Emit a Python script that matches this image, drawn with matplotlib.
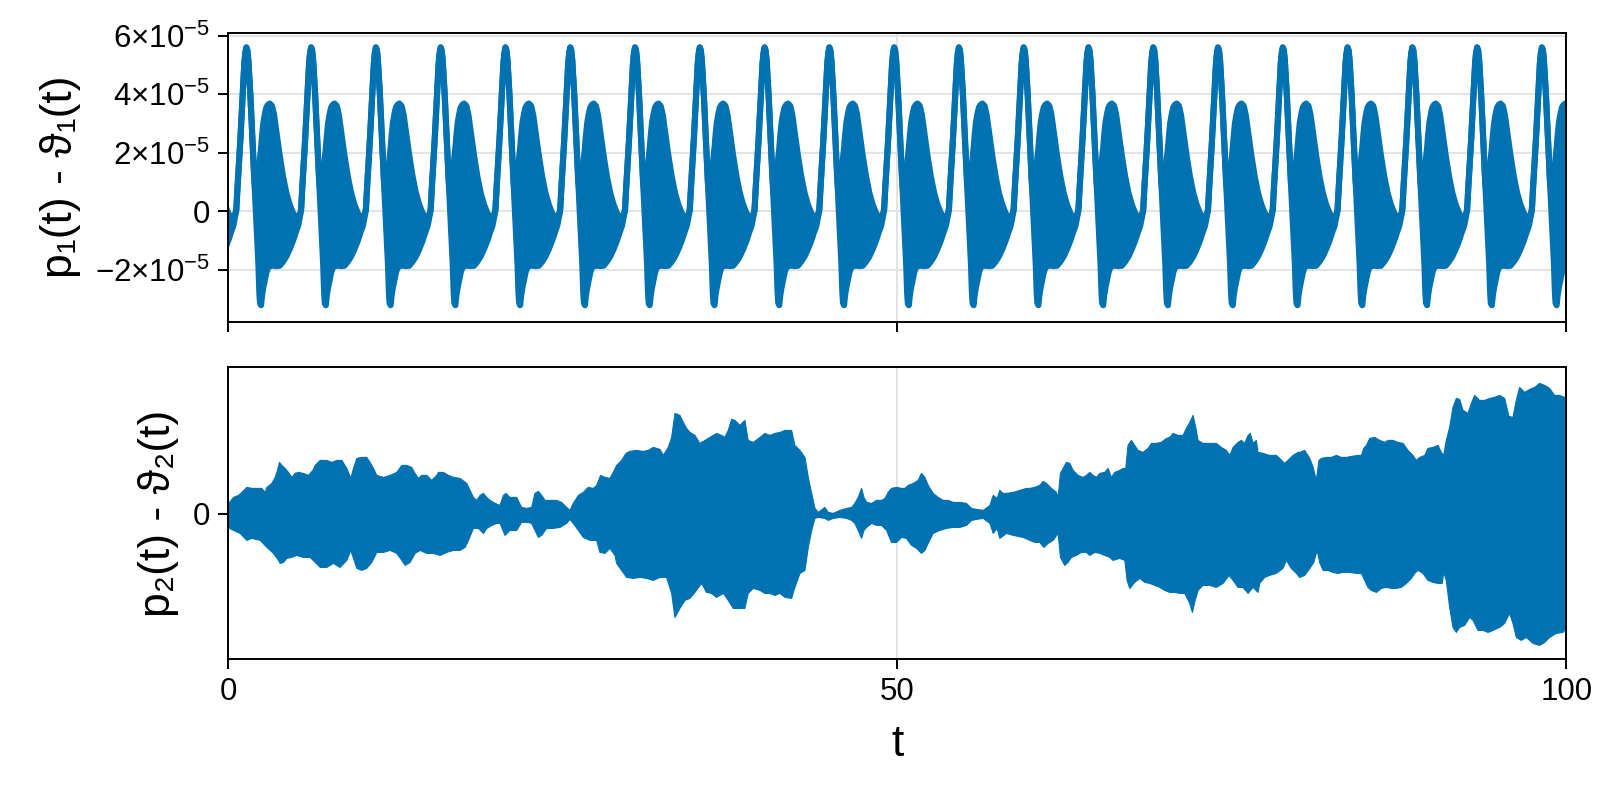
import numpy as np
import matplotlib
matplotlib.use("Agg")
import matplotlib.pyplot as plt

plt.rcParams['font.family'] = ['Liberation Sans', 'DejaVu Sans']
plt.rcParams['mathtext.fontset'] = 'custom'
plt.rcParams['mathtext.rm'] = 'Liberation Sans'
plt.rcParams['mathtext.it'] = 'Liberation Sans:italic'
plt.rcParams['mathtext.bf'] = 'Liberation Sans:bold'

BLUE = '#0072b2'

# ---------------- top panel: one read cycle of p1 - theta1 (units of 1e-5) ----------------
p1_period = 4.84          # time between tall peaks
p1_first_peak = 1.37      # time of first tall peak
p1_n_cycles = 21
cycle_dt = [0.00, 0.075, 0.15, 0.224, 0.30, 0.40, 0.50, 0.60, 0.70, 0.80, 0.90, 0.97,
            1.02, 1.10, 1.17, 1.27, 1.40, 1.50, 1.62, 1.75, 1.92, 2.07, 2.24, 2.49,
            2.74, 2.99, 3.24, 3.49, 3.69, 3.87, 3.99, 4.09, 4.19, 4.29, 4.39, 4.49,
            4.59, 4.69, 4.76]
cycle_upper = [5.60, 5.50, 5.17, 4.57, 3.98, 2.99, 2.00, 1.02, 0.58, 0.76, 1.19, 1.56,
               1.82, 2.16, 2.56, 3.02, 3.36, 3.55, 3.64, 3.68, 3.60, 3.30, 2.73, 1.91,
               1.19, 0.62, 0.22, -0.07, -0.22, -0.18, -0.13, 0.06, 0.88, 1.62, 2.42, 3.32,
               4.29, 5.06, 5.40]
cycle_lower = [5.60, 5.50, 5.17, 4.57, 3.98, 2.99, 2.00, 1.02, 0.08, -0.83, -1.81, -2.78,
               -3.14, -3.22, -2.90, -2.61, -2.33, -2.10, -1.93, -1.88, -1.87, -1.87, -1.88, -1.87,
               -1.73, -1.55, -1.30, -1.01, -0.73, -0.50, -0.21, 0.02, 0.88, 1.62, 2.42, 3.32,
               4.29, 5.06, 5.40]
p1_yticks = [-2e-5, 0, 2e-5, 4e-5, 6e-5]
p1_yticklabels = [r'$-2{\times}10^{-5}$', '0', r'$2{\times}10^{-5}$',
                  r'$4{\times}10^{-5}$', r'$6{\times}10^{-5}$']

# ---------------- bottom panel: envelope of p2 - theta2 (arbitrary units) ----------------
p2_upper_t = [0.0, 0.08, 0.38, 0.75, 1.00, 1.37, 1.75, 2.12, 2.49, 2.74, 2.87, 3.24, 3.49, 3.66, 3.81, 3.99,
              4.23, 4.48, 4.73, 4.98, 5.23, 5.60, 5.98, 6.30, 6.48, 6.85, 7.35, 7.72, 8.09, 8.47,
              8.84, 9.14, 9.34, 9.59, 9.96, 10.33, 10.58, 10.83, 11.08, 11.58, 12.08, 12.57,
              12.95, 13.32, 13.69, 13.94, 14.19, 14.44, 14.81, 15.19, 15.56, 15.69, 16.06, 16.43,
              16.81, 17.30, 17.80, 18.05, 18.30, 18.55, 18.80, 19.05, 19.30, 19.54, 19.92, 20.29,
              20.54, 20.73, 21.03, 21.53, 21.90, 22.28, 22.65, 22.90, 23.15, 23.40, 23.65, 24.02,
              24.52, 24.89, 25.27, 25.51, 25.76, 26.14, 26.51, 26.88, 27.26, 27.51, 27.80, 28.13,
              28.50, 28.75, 29.00, 29.37, 29.70, 29.99, 30.49, 30.99, 31.36, 31.74, 32.24, 32.49,
              32.86, 33.11, 33.36, 33.73, 33.98, 34.23, 34.48, 34.85, 35.22, 35.60, 35.97, 36.47,
              36.84, 37.09, 37.34, 37.59, 37.84, 38.21, 38.58, 38.83, 39.21,
              39.71, 40.08, 40.46, 40.83, 41.20, 41.58, 42.07, 42.32, 42.70, 43.07, 43.32, 43.57,
              43.82, 44.07, 44.56, 44.81, 45.19, 45.68, 46.18, 46.56, 46.80, 47.05, 47.30, 47.48,
              47.68, 48.05, 48.42, 48.80, 49.05, 49.29, 49.54, 49.92, 50.29, 50.54, 50.79, 51.16,
              51.53, 51.78, 52.03, 52.28, 52.65, 53.03, 53.40, 53.77, 54.15, 54.65, 55.14, 55.52,
              55.89, 56.39, 56.89, 57.14, 57.43, 57.63, 57.88, 58.13, 58.63, 59.13, 59.62,
              59.87, 60.24, 60.62, 60.87, 61.12, 61.49, 61.86, 61.99, 62.16, 62.36, 62.61, 62.86,
              63.11, 63.48, 63.85, 64.10, 64.35, 64.60, 64.85, 65.10, 65.47, 65.72, 65.97, 66.22,
              66.59, 66.84, 67.04, 67.21, 67.46, 67.71, 67.96, 68.33, 68.71, 68.96, 69.33, 69.70,
              70.08, 70.33, 70.57, 70.95, 71.32, 71.57, 71.82, 72.07, 72.27, 72.44, 72.81, 73.31,
              73.81, 74.18, 74.56, 74.81, 75.06, 75.43, 75.68, 75.93, 76.18, 76.35, 76.55, 76.80,
              76.92, 77.30, 77.79, 78.29, 78.54, 78.91, 79.16, 79.54, 79.91,
              80.04, 80.41, 80.79, 81.04, 81.28, 81.48, 81.66, 82.03, 82.40, 82.78, 83.15, 83.53,
              83.90, 84.40, 84.65, 84.82, 85.02, 85.27, 85.64, 86.02, 86.39, 86.64, 87.01, 87.38,
              87.76, 88.13, 88.50, 88.75, 89.00, 89.38, 89.62, 90.00, 90.37, 90.62, 90.79, 90.99,
              91.24, 91.49, 91.74, 91.99, 92.24, 92.61, 92.86, 93.11, 93.48, 93.86, 94.23, 94.60,
              94.98, 95.35, 95.67, 95.97, 96.22, 96.47, 96.84, 97.22, 97.59, 97.96, 98.34, 98.71,
              99.08, 99.46, 99.83, 100.0]
p2_upper = [0.09, 0.12, 0.17, 0.19, 0.22, 0.27, 0.26, 0.26, 0.26, 0.22, 0.27, 0.31, 0.37, 0.44, 0.52, 0.49,
            0.46, 0.42, 0.37, 0.41, 0.42, 0.41, 0.39, 0.44, 0.49, 0.54, 0.54, 0.52, 0.54, 0.54,
            0.46, 0.36, 0.46, 0.56, 0.57, 0.57, 0.52, 0.46, 0.39, 0.37, 0.39, 0.42,
            0.49, 0.49, 0.47, 0.41, 0.36, 0.39, 0.39, 0.34, 0.39, 0.42, 0.42, 0.39,
            0.37, 0.36, 0.31, 0.24, 0.17, 0.14, 0.19, 0.21, 0.17, 0.14, 0.11, 0.09,
            0.19, 0.21, 0.17, 0.17, 0.07, 0.06, 0.07, 0.21, 0.23, 0.19, 0.14, 0.14,
            0.14, 0.12, 0.07, 0.04, 0.11, 0.19, 0.22, 0.27, 0.26, 0.29, 0.39, 0.37,
            0.36, 0.42, 0.49, 0.54, 0.61, 0.63, 0.64, 0.63, 0.64, 0.67, 0.65, 0.59,
            0.67, 0.77, 1.01, 0.99, 0.92, 0.86, 0.82, 0.79, 0.71, 0.74, 0.77, 0.81,
            0.79, 0.77, 0.84, 0.95, 0.94, 0.89, 0.94, 0.74, 0.72,
            0.77, 0.81, 0.79, 0.81, 0.82, 0.84, 0.84, 0.69, 0.64, 0.57, 0.37, 0.21,
            0.06, 0.02, 0.07, 0.02, 0.01, 0.04, 0.06, 0.07, 0.11, 0.17, 0.26, 0.17,
            0.12, 0.11, 0.14, 0.14, 0.16, 0.22, 0.26, 0.27, 0.26, 0.26, 0.29, 0.31,
            0.34, 0.41, 0.37, 0.29, 0.21, 0.17, 0.14, 0.14, 0.12, 0.12, 0.11, 0.06,
            0.05, 0.04, 0.09, 0.19, 0.16, 0.24, 0.21, 0.21, 0.22, 0.24, 0.26,
            0.26, 0.27, 0.29, 0.33, 0.31, 0.26, 0.22, 0.17, 0.41, 0.46, 0.52, 0.51,
            0.44, 0.39, 0.37, 0.39, 0.42, 0.39, 0.37, 0.41, 0.42, 0.46, 0.37, 0.42,
            0.44, 0.46, 0.46, 0.69, 0.74, 0.69, 0.64, 0.62, 0.66, 0.71, 0.71, 0.72,
            0.76, 0.77, 0.81, 0.79, 0.79, 0.86, 0.92, 0.99, 0.87, 0.74, 0.71, 0.71,
            0.71, 0.67, 0.64, 0.59, 0.67, 0.72, 0.74, 0.71, 0.79, 0.81, 0.71, 0.74,
            0.62, 0.61, 0.59, 0.59, 0.56, 0.51, 0.54, 0.59, 0.62,
            0.62, 0.64, 0.56, 0.47, 0.34, 0.54, 0.56, 0.57, 0.57, 0.59, 0.57, 0.57,
            0.58, 0.59, 0.59, 0.66, 0.69, 0.76, 0.77, 0.74, 0.72, 0.74, 0.74, 0.72,
            0.71, 0.64, 0.59, 0.54, 0.57, 0.59, 0.66, 0.67, 0.69, 0.62, 0.59, 0.74,
            0.87, 1.07, 1.16, 1.15, 1.04, 1.01, 1.11, 1.19, 1.14, 1.14, 1.16, 1.17,
            1.19, 1.16, 0.98, 0.97, 1.14, 1.27, 1.22, 1.25, 1.27, 1.31, 1.29, 1.26,
            1.19, 1.19, 1.17, 1.16]
p2_lower_t = [0.0, 0.08, 0.38, 0.87, 1.37, 1.75, 2.37, 2.87, 3.36, 3.74, 3.86, 4.11, 4.36, 4.73, 5.11, 5.60,
              6.10, 6.48, 6.85, 7.35, 7.84, 8.34, 8.84, 9.14, 9.34, 9.59, 9.96, 10.33, 10.71,
              11.08, 11.58, 12.08, 12.57, 12.95, 13.20, 13.57, 13.94, 14.32, 14.81, 15.31, 15.81,
              16.31, 16.81, 17.30, 17.68, 17.93, 18.30, 18.67, 19.05, 19.30, 19.67, 20.04, 20.29,
              20.66, 21.03, 21.53, 21.90, 22.40, 22.65, 22.90, 23.15, 23.40, 23.77, 24.27, 24.77,
              25.27, 25.51, 25.76, 26.14, 26.51, 27.01, 27.51, 27.75, 28.13, 28.50, 28.88, 29.00,
              29.37, 29.75, 30.24, 30.74, 31.24, 31.74, 32.24, 32.73, 33.11, 33.36, 33.73, 34.10,
              34.48, 34.85, 35.35, 35.72, 36.09, 36.47, 36.97, 37.34, 37.71, 38.21, 38.58, 38.83, 39.21,
              39.71, 40.08, 40.46, 40.83, 41.20, 41.58, 42.07, 42.32, 42.70, 43.07, 43.32, 43.57,
              43.82, 44.07, 44.56, 44.81, 45.19, 45.68, 46.18, 46.56, 46.80, 47.05, 47.30, 47.48,
              47.68, 48.05, 48.42, 48.80, 49.17, 49.54, 49.92, 50.29, 50.66, 51.04, 51.41, 51.78,
              52.03, 52.28, 52.65, 53.15, 53.65, 54.15, 54.65, 55.14, 55.52, 55.89, 56.39, 56.89,
              57.14, 57.43, 57.63, 58.13, 58.63, 59.38,
              59.87, 60.24, 60.62, 60.92, 61.24, 61.61, 61.99, 62.16, 62.48, 62.73, 62.98, 63.36,
              63.73, 64.10, 64.35, 64.73, 65.10, 65.47, 65.85, 66.09, 66.59, 66.97, 67.14, 67.34,
              67.71, 68.09, 68.46, 68.83, 69.21, 69.58, 69.95, 70.33, 70.70, 71.07, 71.45, 71.82,
              72.02, 72.19, 72.44, 72.81, 73.31, 73.81, 74.31, 74.76, 75.06, 75.43, 75.80, 76.18,
              76.55, 76.92, 77.05, 77.42, 77.79, 78.29, 78.79, 79.04, 79.41, 79.79,
              80.04, 80.41, 80.79, 81.09, 81.34, 81.53, 81.78, 82.16, 82.53, 82.90, 83.28, 83.77,
              84.27, 84.65, 84.89, 85.14, 85.39, 85.77, 86.14, 86.51, 86.89, 87.26, 87.63, 88.01,
              88.38, 88.63, 88.88, 89.25, 89.62, 90.00, 90.37, 90.69, 90.79, 90.99, 91.24, 91.49,
              91.74, 91.99, 92.36, 92.74, 92.99, 93.36, 93.73, 94.11, 94.48, 94.98, 95.35, 95.72,
              95.97, 96.22, 96.59, 96.97, 97.47, 97.96, 98.34, 98.71, 99.21, 99.71, 100.0]
p2_lower = [-0.10, -0.14, -0.16, -0.19, -0.26, -0.24, -0.26, -0.33, -0.39, -0.46, -0.49, -0.48, -0.44, -0.43, -0.41, -0.43,
            -0.43, -0.48, -0.53, -0.53, -0.49, -0.53, -0.46, -0.36, -0.44, -0.54, -0.56, -0.54, -0.48,
            -0.38, -0.38, -0.36, -0.39, -0.46, -0.51, -0.48, -0.39, -0.36, -0.39, -0.39, -0.41,
            -0.38, -0.36, -0.36, -0.33, -0.26, -0.14, -0.14, -0.19, -0.14, -0.11, -0.09, -0.09,
            -0.21, -0.16, -0.16, -0.08, -0.08, -0.09, -0.16, -0.23, -0.21, -0.14, -0.14, -0.13,
            -0.09, -0.05, -0.09, -0.16, -0.23, -0.26, -0.26, -0.38, -0.39, -0.34, -0.41, -0.49,
            -0.56, -0.63, -0.64, -0.63, -0.64, -0.66, -0.63, -0.63, -0.79, -1.03, -0.94, -0.86,
            -0.84, -0.78, -0.69, -0.78, -0.79, -0.83, -0.79, -0.86, -0.94, -0.94, -0.94, -0.79, -0.74,
            -0.76, -0.79, -0.79, -0.81, -0.79, -0.83, -0.84, -0.73, -0.59, -0.56, -0.33, -0.16,
            -0.04, -0.03, -0.04, -0.06, -0.04, -0.03, -0.04, -0.06, -0.09, -0.16, -0.24, -0.16,
            -0.13, -0.09, -0.11, -0.11, -0.16, -0.28, -0.28, -0.23, -0.24, -0.31, -0.34, -0.39,
            -0.36, -0.29, -0.19, -0.16, -0.14, -0.13, -0.13, -0.11, -0.06, -0.05, -0.04, -0.09,
            -0.19, -0.14, -0.24, -0.19, -0.21, -0.23,
            -0.26, -0.28, -0.28, -0.33, -0.29, -0.26, -0.19, -0.43, -0.51, -0.48, -0.43, -0.41,
            -0.38, -0.38, -0.41, -0.38, -0.39, -0.41, -0.43, -0.46, -0.44, -0.46, -0.66, -0.74,
            -0.68, -0.64, -0.68, -0.69, -0.71, -0.73, -0.76, -0.78, -0.78, -0.79, -0.79, -0.89,
            -0.98, -0.88, -0.76, -0.71, -0.71, -0.73, -0.69, -0.61, -0.66, -0.73, -0.73, -0.79,
            -0.73, -0.78, -0.69, -0.63, -0.61, -0.59, -0.54, -0.46, -0.54, -0.59,
            -0.63, -0.61, -0.54, -0.48, -0.36, -0.48, -0.56, -0.56, -0.58, -0.59, -0.58, -0.58,
            -0.59, -0.59, -0.66, -0.73, -0.76, -0.78, -0.74, -0.73, -0.74, -0.74, -0.73, -0.69,
            -0.64, -0.59, -0.56, -0.59, -0.66, -0.68, -0.69, -0.69, -0.58, -0.66, -0.93, -1.13,
            -1.18, -1.13, -1.11, -1.03, -1.06, -1.16, -1.16, -1.18, -1.16, -1.13, -1.09, -0.99,
            -1.09, -1.23, -1.26, -1.23, -1.29, -1.31, -1.28, -1.23, -1.19, -1.18, -1.13]

x_ticks = [0, 50, 100]
x_ticklabels = ['0', '50', '100']

# ---------------- build top series from the read cycle ----------------
t1, up1, lo1 = [], [], []
for k in range(-1, p1_n_cycles):
    base = p1_first_peak + k * p1_period
    t1.extend([base + d for d in cycle_dt])
    up1.extend(cycle_upper)
    lo1.extend(cycle_lower)
t1 = np.array(t1)
up1 = np.array(up1) * 1e-5
lo1 = np.array(lo1) * 1e-5

# ---------------- figure ----------------
fig = plt.figure(figsize=(16, 8), dpi=100)
ax1 = fig.add_axes([0.1425, 0.598, 0.8365, 0.361])
ax2 = fig.add_axes([0.1425, 0.176, 0.8365, 0.365])

GRID = '#e3e3e3'
for ax in (ax1, ax2):
    ax.set_axisbelow(True)
    for s in ax.spines.values():
        s.set_linewidth(1.4)
        s.set_color('black')
    ax.tick_params(axis='both', direction='out', length=7, width=1.4,
                   labelsize=22.5, color='black', pad=6)
    ax.set_xlim(0, 100)
    ax.set_xticks(x_ticks)
    ax.grid(True, color=GRID, linewidth=1.4)

ax1.fill_between(t1, lo1, up1, facecolor=BLUE, edgecolor='none', linewidth=0)
ax1.plot(t1, up1, color=BLUE, linewidth=4.4, solid_joinstyle='round', solid_capstyle='round')
ax1.plot(t1, lo1, color=BLUE, linewidth=4.4, solid_joinstyle='round', solid_capstyle='round')
ax1.set_ylim(-3.78e-5, 6.10e-5)
ax1.set_yticks(p1_yticks)
ax1.set_yticklabels(p1_yticklabels)
ax1.tick_params(axis='x', labelbottom=False)
ax1.set_ylabel('p\u2081(t) - \u03d1\u2081(t)', fontsize=32, labelpad=10)

ax2.fill_between(p2_upper_t, 0, p2_upper, facecolor=BLUE, edgecolor=BLUE,
                 linewidth=0.8, joinstyle='round')
ax2.fill_between(p2_lower_t, p2_lower, 0, facecolor=BLUE, edgecolor=BLUE,
                 linewidth=0.8, joinstyle='round')
ax2.set_ylim(-1.453, 1.467)
ax2.set_yticks([0])
ax2.set_yticklabels(['0'])
ax2.set_xticklabels(x_ticklabels)
ax2.set_ylabel('p\u2082(t) - \u03d1\u2082(t)', fontsize=32, labelpad=10)
ax2.set_xlabel('t', fontsize=32, labelpad=12)

fig.savefig('out.png', dpi=100, facecolor='white')
